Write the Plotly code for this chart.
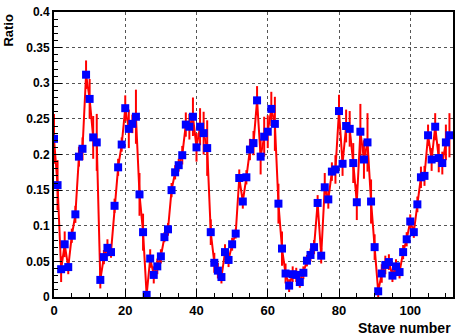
import plotly.graph_objects as go

stave = list(range(112))
ratio = [
    0.222, 0.157, 0.039, 0.074, 0.042, 0.086, 0.116, 0.197, 0.208, 0.312,
    0.278, 0.224, 0.217, 0.024, 0.056, 0.069, 0.063, 0.128, 0.182, 0.214,
    0.265, 0.236, 0.243, 0.253, 0.144, 0.091, 0.003, 0.054, 0.031, 0.043,
    0.057, 0.084, 0.095, 0.150, 0.175, 0.185, 0.199, 0.242, 0.239, 0.253,
    0.210, 0.239, 0.230, 0.209, 0.091, 0.048, 0.037, 0.028, 0.063, 0.052,
    0.074, 0.089, 0.167, 0.134, 0.168, 0.207, 0.216, 0.276, 0.197, 0.225,
    0.232, 0.264, 0.243, 0.131, 0.068, 0.033, 0.016, 0.032, 0.031, 0.021,
    0.034, 0.051, 0.059, 0.070, 0.132, 0.058, 0.154, 0.137, 0.176, 0.179,
    0.261, 0.187, 0.240, 0.236, 0.188, 0.133, 0.232, 0.193, 0.217, 0.134,
    0.070, 0.008, 0.033, 0.045, 0.049, 0.030, 0.043, 0.035, 0.063, 0.081,
    0.106, 0.091, 0.130, 0.168, 0.170, 0.227, 0.193, 0.239, 0.195, 0.188,
    0.217, 0.227,
]
ratio_err = [
    0.035, 0.035, 0.018, 0.018, 0.010, 0.010, 0.012, 0.014, 0.016, 0.020,
    0.028, 0.030, 0.040, 0.012, 0.010, 0.012, 0.008, 0.010, 0.012, 0.010,
    0.018, 0.027, 0.013, 0.038, 0.030, 0.026, 0.005, 0.013, 0.012, 0.011,
    0.010, 0.007, 0.009, 0.010, 0.010, 0.009, 0.013, 0.017, 0.018, 0.027,
    0.020, 0.026, 0.030, 0.039, 0.018, 0.014, 0.011, 0.009, 0.011, 0.010,
    0.009, 0.007, 0.012, 0.010, 0.010, 0.015, 0.017, 0.020, 0.025, 0.028,
    0.023, 0.024, 0.038, 0.028, 0.024, 0.014, 0.009, 0.011, 0.010, 0.008,
    0.009, 0.008, 0.009, 0.010, 0.011, 0.011, 0.020, 0.013, 0.013, 0.020,
    0.023, 0.017, 0.023, 0.025, 0.028, 0.025, 0.039, 0.027, 0.041, 0.031,
    0.018, 0.008, 0.013, 0.013, 0.011, 0.009, 0.010, 0.009, 0.010, 0.010,
    0.010, 0.008, 0.011, 0.015, 0.014, 0.015, 0.016, 0.019, 0.020, 0.016,
    0.025, 0.031,
]

x_tickvals = [0, 20, 40, 60, 80, 100]
x_ticktext = ["0", "20", "40", "60", "80", "100"]
y_tickvals = [0, 0.05, 0.1, 0.15, 0.2, 0.25, 0.3, 0.35, 0.4]
y_ticktext = ["0", "0.05", "0.1", "0.15", "0.2", "0.25", "0.3", "0.35", "0.4"]

FONT = "Liberation Sans, Arial, Helvetica, sans-serif"

fig = go.Figure()
fig.add_trace(go.Scatter(
    x=stave, y=ratio,
    mode="lines+markers",
    line=dict(color="#ff0000", width=2),
    marker=dict(symbol="square", size=8, color="#0000ff",
                line=dict(width=0)),
    error_y=dict(type="data", array=ratio_err, visible=True,
                 color="#ff0000", thickness=2, width=0),
    showlegend=False,
))

axis_common = dict(
    showline=True, linecolor="black", linewidth=2, mirror=True,
    ticks="inside", tickcolor="black", tickwidth=1,
    showgrid=True, gridcolor="#555555", griddash="dot", gridwidth=1,
    zeroline=False,
)

fig.update_layout(
    width=460, height=335,
    margin=dict(l=54, r=7, t=5, b=38),
    paper_bgcolor="white", plot_bgcolor="white",
    xaxis=dict(
        range=[0, 112],
        tickmode="array", tickvals=x_tickvals, ticktext=x_ticktext,
        ticklen=8,
        tickfont=dict(family=FONT, size=13, color="black", weight="bold"),
        minor=dict(tickmode="linear", tick0=0, dtick=5, ticklen=4,
                   ticks="inside", tickcolor="black", showgrid=False),
        **axis_common,
    ),
    yaxis=dict(
        range=[0, 0.4],
        tickmode="array", tickvals=y_tickvals, ticktext=y_ticktext,
        ticklen=8,
        tickfont=dict(family=FONT, size=12, color="black", weight="bold"),
        minor=dict(tickmode="linear", tick0=0, dtick=0.01, ticklen=4,
                   ticks="inside", tickcolor="black", showgrid=False),
        **axis_common,
    ),
    annotations=[
        dict(text="Stave number", xref="paper", yref="paper",
             x=1.0, y=-0.072, xanchor="right", yanchor="top",
             showarrow=False,
             font=dict(family=FONT, size=14, color="black", weight="bold")),
        dict(text="Ratio", xref="paper", yref="paper",
             x=-0.115, y=1.0, xanchor="center", yanchor="top",
             textangle=-90, showarrow=False,
             font=dict(family=FONT, size=13, color="black", weight="bold")),
    ],
)

fig.write_html("out.html")
